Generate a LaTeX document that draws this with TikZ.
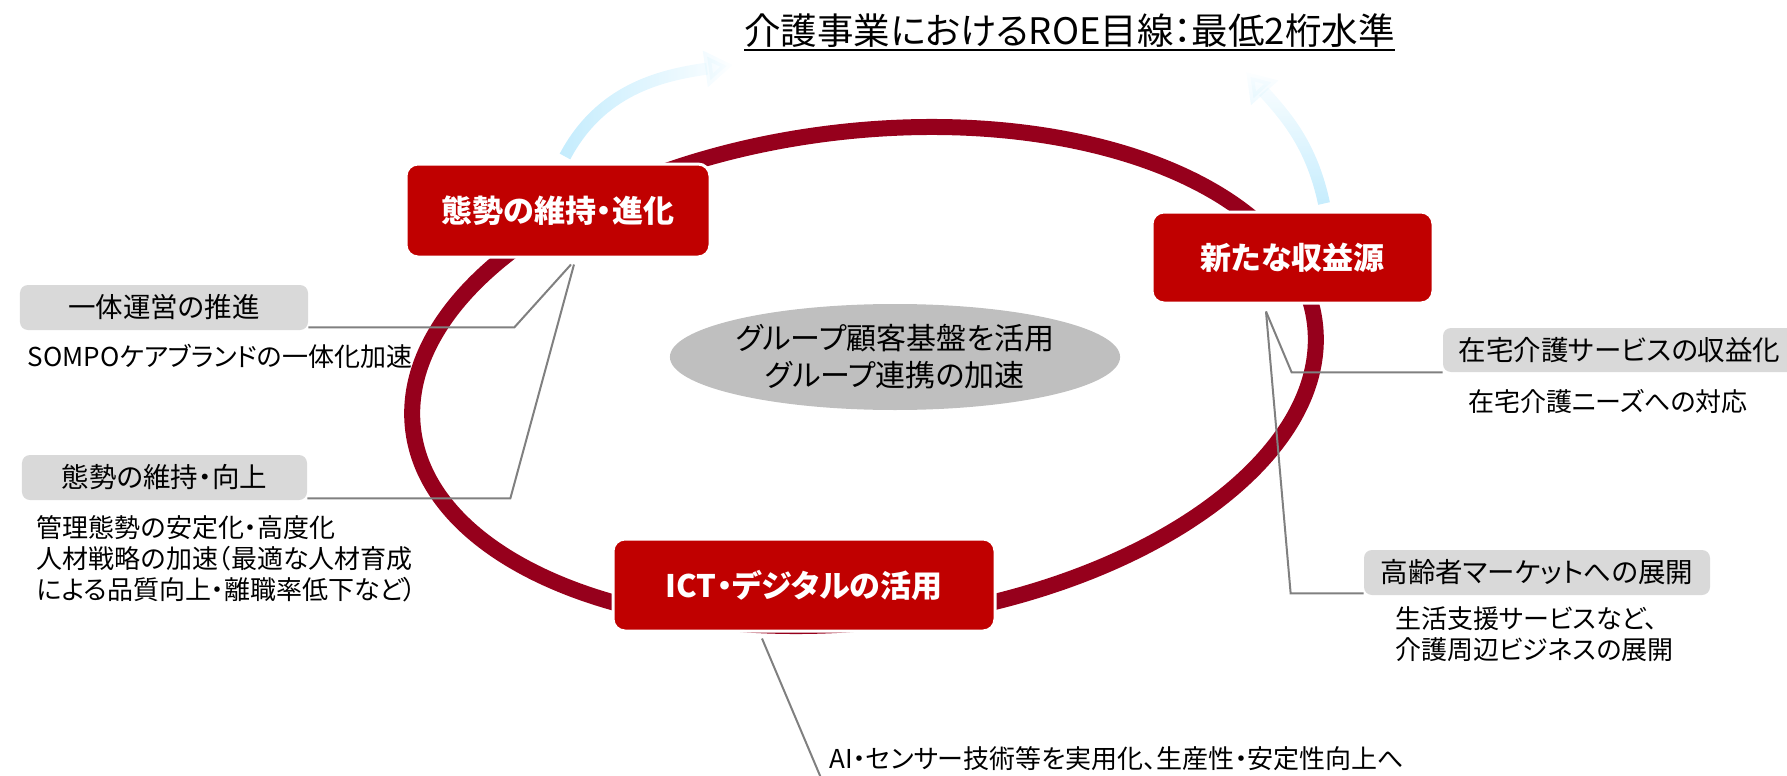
\documentclass[tikz,border=0pt]{standalone}
\usepackage{fontspec}
\setmainfont{Noto Sans CJK JP}[RawFeature=+palt]
\usetikzlibrary{positioning,calc,arrows.meta,shapes.geometric,fadings}

\definecolor{ringred}{RGB}{150,0,28}
\definecolor{boxred}{RGB}{192,0,0}
\definecolor{labgray}{RGB}{217,217,217}
\definecolor{hubgray}{RGB}{191,191,191}
\definecolor{leadgray}{RGB}{128,128,128}
\definecolor{skyarrow}{RGB}{196,236,253}

\begin{document}
\begin{tikzpicture}[x=0.2mm, y=0.2mm,
    pillar/.style={rectangle, rounded corners=2.4mm, fill=boxred, draw=white, line width=0.6mm, text=white, font=\bfseries\fontsize{6.2mm}{7mm}\selectfont, inner sep=0pt},
    theme/.style={rectangle, rounded corners=1.6mm, fill=labgray, inner sep=0pt, minimum height=9mm, font=\fontsize{5.5mm}{6.5mm}\selectfont},
    note/.style={anchor=north west, inner sep=0pt, align=left, font=\fontsize{5.2mm}{6.2mm}\selectfont},
    lead/.style={draw=leadgray, line width=0.4mm},
    rise/.style={draw=skyarrow, line width=2.4mm, -{Triangle[length=5.6mm,width=7mm]}},
    ring/.style={draw=ringred, line width=3.2mm}
]
    \useasboundingbox (0,0) rectangle (1787,-776);

    % the cycle behind everything
    \draw[ring] (864,-376.5) ellipse [x radius=90.8mm, y radius=49.1mm, rotate=6.67];

    \node[ellipse, fill=hubgray, minimum width=84.8mm, minimum height=21.2mm, inner sep=0pt, align=center, font=\fontsize{6mm}{7.4mm}\selectfont] (hub) at (895,-357) {グループ顧客基盤を活用\\グループ連携の加速};

    \node[pillar, minimum width=60.8mm, minimum height=18.6mm] (upkeep) at (558,-210.5) {態勢の維持・進化};
    \node[pillar, minimum width=56.2mm, minimum height=18.2mm] (revenue) at (1292.5,-257.5) {新たな収益源};
    \node[pillar, minimum width=76.4mm, minimum height=18.4mm] (digital) at (804,-585) {ICT・デジタルの活用};

    % goal on top
    \node[inner sep=0pt, anchor=base, font=\fontsize{7.3mm}{8mm}\selectfont] (goal) at (1069.5,-44.5) {介護事業におけるROE目線：最低2桁水準};
    \draw[line width=0.3mm] ([yshift=-1.1mm]goal.base west) -- ([yshift=-1.1mm]goal.base east);

    \coordinate (aim1) at (733,-65);
    \coordinate (aim2) at (1246,-72);
    \draw[rise, path fading=east] ([xshift=1.4mm,yshift=1.2mm]upkeep.north) to[out=62,in=188] (aim1);
    \draw[rise, path fading=north] ([xshift=6.3mm,yshift=1.4mm]revenue.north) to[out=102,in=-48] (aim2);

    % themes and notes
    \node[theme, minimum width=57.6mm] (unify) at (164,-307.5) {一体運営の推進};
    \node[theme, minimum width=57mm] (keep) at (164.5,-477.5) {態勢の維持・向上};
    \node[theme, minimum width=70.6mm, minimum height=8.8mm] (homecare) at (1619.5,-350) {在宅介護サービスの収益化};
    \node[theme, minimum width=69.2mm] (senior) at (1537,-572.5) {高齢者マーケットへの展開};

    \node[note] (unifynote) at ([xshift=1.6mm,yshift=-2.8mm]unify.south west) {SOMPOケアブランドの一体化加速};
    \node[note] (keepnote) at ([xshift=3mm,yshift=-3mm]keep.south west) {管理態勢の安定化・高度化\\人材戦略の加速（最適な人材育成\\による品質向上・離職率低下など）};
    \node[note] (homenote) at ([xshift=5mm,yshift=-3.4mm]homecare.south west) {在宅介護ニーズへの対応};
    \node[note] (seniornote) at ([xshift=6.2mm,yshift=-2.2mm]senior.south west) {生活支援サービスなど、\\介護周辺ビジネスの展開};
    \node[note] (ictnote) at (829,-746) {AI・センサー技術等を実用化、生産性・安定性向上へ};

    % leader lines
    \coordinate (upfoot) at ([xshift=2.6mm,yshift=-1.2mm]upkeep.south);
    \draw[lead] (upfoot) -- ([xshift=41.2mm,yshift=0.6mm]unify.south east) -- ([yshift=0.6mm]unify.south east);
    \draw[lead] ([xshift=0.6mm]upfoot) -- ([xshift=40.6mm,yshift=0.4mm]keep.south east) -- ([yshift=0.4mm]keep.south east);
    \coordinate (revfoot) at ([xshift=-5.3mm,yshift=-1.4mm]revenue.south);
    \draw[lead] (revfoot) -- ([xshift=-30.2mm]homecare.south west) -- (homecare.south west);
    \draw[lead] (revfoot) -- ([xshift=-14.6mm,yshift=0.4mm]senior.south west) -- ([yshift=0.4mm]senior.south west);
    \coordinate (ictfoot) at (821,-778);
    \draw[lead] ([xshift=-8.4mm,yshift=-1.2mm]digital.south) -- (ictfoot);
\end{tikzpicture}
\end{document}
